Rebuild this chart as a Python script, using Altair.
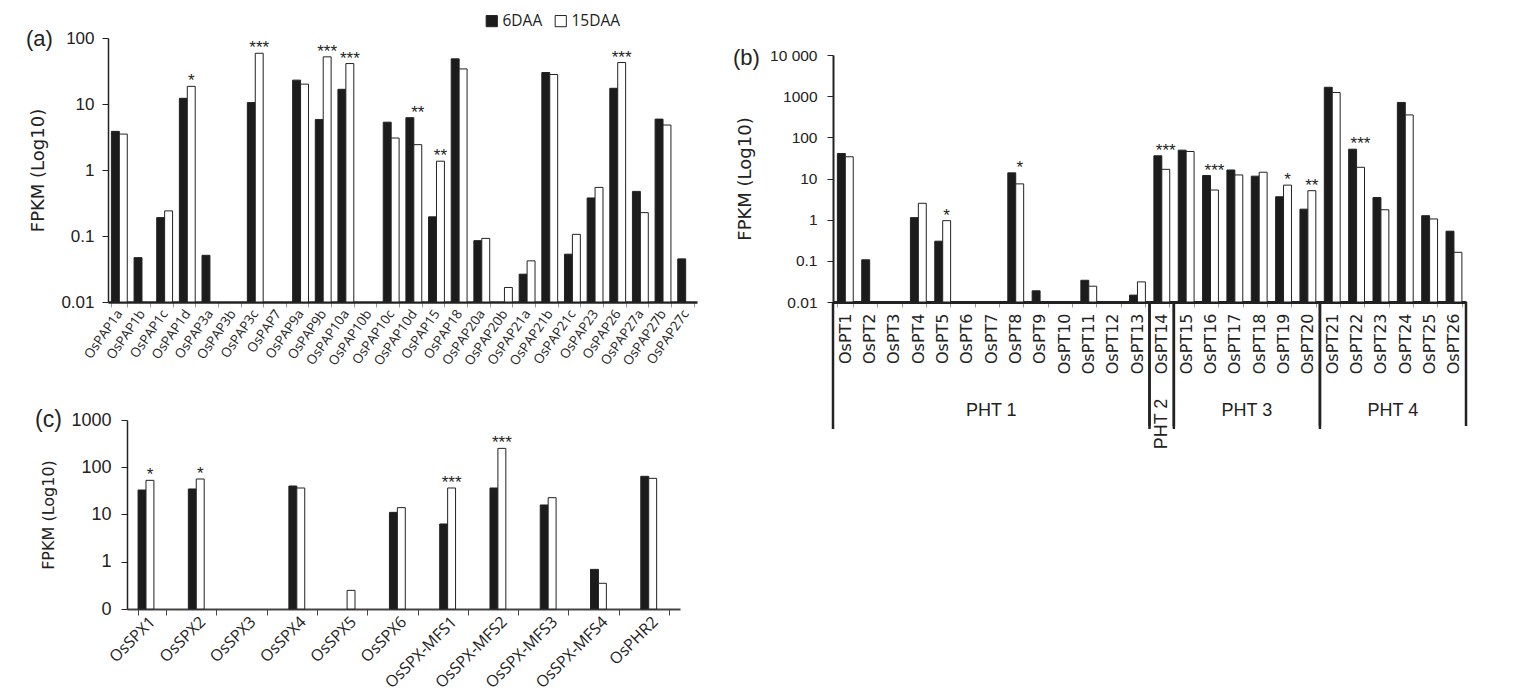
import altair as alt
import pandas as pd

stages = ["6DAA", "15DAA"]
bar_colors = ["#1c1c1c", "#ffffff"]

# ---------- panel (a) ----------
pap_genes = ["OsPAP1a", "OsPAP1b", "OsPAP1c", "OsPAP1d", "OsPAP3a", "OsPAP3b", "OsPAP3c",
             "OsPAP7", "OsPAP9a", "OsPAP9b", "OsPAP10a", "OsPAP10b", "OsPAP10c", "OsPAP10d",
             "OsPAP15", "OsPAP18", "OsPAP20a", "OsPAP20b", "OsPAP21a", "OsPAP21b", "OsPAP21c",
             "OsPAP23", "OsPAP26", "OsPAP27a", "OsPAP27b", "OsPAP27c"]
pap_6 = [3.85, 0.047, 0.19, 12.2, 0.051, None, 10.5, None, 23, 5.8, 16.7, None, 5.3, 6.2,
         0.195, 48.3, 0.085, None, 0.0264, 30, 0.053, 0.377, 17.3, 0.474, 5.9, 0.045]
pap_15 = [3.5, None, 0.24, 18.5, None, None, 58.7, None, 20, 51.8, 41, None, 3.05, 2.42,
          1.36, 34, 0.092, 0.0166, 0.042, 28, 0.106, 0.545, 42.5, 0.226, 4.8, None]
pap_sig = ["", "", "", "*", "", "", "***", "", "", "***", "***", "", "", "**",
           "**", "", "", "", "", "", "", "", "***", "", "", ""]

# ---------- panel (b) ----------
pt_genes = ["OsPT1", "OsPT2", "OsPT3", "OsPT4", "OsPT5", "OsPT6", "OsPT7", "OsPT8", "OsPT9",
            "OsPT10", "OsPT11", "OsPT12", "OsPT13", "OsPT14", "OsPT15", "OsPT16", "OsPT17",
            "OsPT18", "OsPT19", "OsPT20", "OsPT21", "OsPT22", "OsPT23", "OsPT24", "OsPT25",
            "OsPT26"]
pt_6 = [40.5, 0.106, None, 1.12, 0.30, None, None, 13.7, 0.0187, None, 0.0337, None, 0.0147,
        35.6, 48.8, 11.8, 16.1, 11.4, 3.6, 1.8, 1644, 51.5, 3.44, 705, 1.25, 0.525]
pt_15 = [33.7, None, None, 2.5, 0.946, None, None, 7.4, None, None, 0.0242, None, 0.0308,
         16.7, 45.3, 5.25, 12.2, 14.2, 6.9, 5.06, 1225, 18.7, 1.74, 350, 1.04, 0.161]
pt_sig = ["", "", "", "", "*", "", "", "*", "", "", "", "", "", "***", "", "***", "", "",
          "*", "**", "", "***", "", "", "", ""]
pht_names = ["PHT 1", "PHT 2", "PHT 3", "PHT 4"]
pht_start = [0, 13, 14, 20]
pht_end = [13, 14, 20, 26]

# ---------- panel (c) ----------
spx_genes = ["OsSPX1", "OsSPX2", "OsSPX3", "OsSPX4", "OsSPX5", "OsSPX6", "OsSPX-MFS1",
             "OsSPX-MFS2", "OsSPX-MFS3", "OsSPX-MFS4", "OsPHR2"]
spx_6 = [33, 34.7, None, 40.1, None, 11.1, 6.3, 36.4, 15.9, 0.69, 64.3]
spx_15 = [52.8, 56.4, None, 36.4, 0.248, 13.96, 36.4, 251, 22.7, 0.35, 58.2]
spx_sig = ["*", "*", "", "", "", "", "***", "***", "", "", ""]


def long_df(genes, v6, v15):
    rows = []
    for g, a, b in zip(genes, v6, v15):
        if a:
            rows.append({"gene": g, "stage": stages[0], "value": a})
        if b:
            rows.append({"gene": g, "stage": stages[1], "value": b})
    return pd.DataFrame(rows)


def sig_df(genes, v6, v15, sig):
    rows = []
    for g, a, b, s in zip(genes, v6, v15, sig):
        if s:
            rows.append({"gene": g, "stage": stages[1], "top": max(a or 0, b or 0), "sig": s})
    return pd.DataFrame(rows)


def panel(genes, v6, v15, sig, ydomain, width, height, xrange, yrange, band_pad, off_pad,
          xaxis, yaxis, tag, tag_dx, tag_dy, tag_size, legend):
    xscale = alt.Scale(domain=genes, range=xrange, paddingInner=band_pad,
                       paddingOuter=band_pad / 2)
    offscale = alt.Scale(domain=stages, paddingInner=off_pad)
    yscale = alt.Scale(type="log", domain=ydomain, range=yrange)
    bars = alt.Chart(long_df(genes, v6, v15)).mark_bar(stroke="#222222", strokeWidth=1).encode(
        x=alt.X("gene:N", scale=xscale, axis=xaxis, title=None),
        xOffset=alt.XOffset("stage:N", scale=offscale),
        y=alt.Y("value:Q", scale=yscale, axis=yaxis, title="FPKM (Log10)"),
        y2=alt.Y2Datum(ydomain[0]),
        color=alt.Color("stage:N", scale=alt.Scale(domain=stages, range=bar_colors),
                        legend=legend),
    )
    stars = alt.Chart(sig_df(genes, v6, v15, sig)).mark_text(
        fontSize=17, baseline="alphabetic", dy=0, font="Liberation Sans", color="#222222"
    ).encode(
        x=alt.X("gene:N", scale=xscale),
        xOffset=alt.XOffset("stage:N", scale=offscale),
        y=alt.Y("top:Q", scale=yscale),
        text="sig:N",
    )
    label = alt.Chart(pd.DataFrame({"t": [tag]})).mark_text(
        fontSize=tag_size, align="left", baseline="middle", font="Liberation Sans",
        color="#222222"
    ).encode(x=alt.value(tag_dx), y=alt.value(tag_dy), text="t:N")
    return alt.layer(bars, stars, label).properties(width=width, height=height)


label_font = "Liberation Sans"
title_font = "DejaVu Sans"

legend = alt.Legend(
    title=None, orient="none", direction="horizontal", legendX=357, legendY=-25,
    symbolType="square", symbolSize=125, symbolStrokeColor="#222222", symbolStrokeWidth=1,
    labelFont="Open Sans", labelFontSize=15.5, labelColor="#222222", columnPadding=10,
    labelOffset=3, padding=0,
)

# ----- A -----  (origin shared with C; A's own axis sits 19px further left)
A_SHIFT = 19
A_W, A_H = 570, 264
axA_y = alt.Axis(values=[0.01, 0.1, 1, 10, 100], labelExpr="format(datum.value, '~g')",
                 grid=False, domainColor="#222222", domainWidth=1.5, tickColor="#222222",
                 tickSize=6, labelFont=label_font, labelFontSize=17, labelColor="#222222",
                 labelPadding=8, titleFont=title_font, titleFontSize=18,
                 titleFontWeight="normal", titleColor="#222222", titlePadding=13,
                 offset=A_SHIFT)
axA_x = alt.Axis(labelAngle=-55, labelAlign="right", labelBaseline="middle",
                 labelFont="Open Sans", labelFontSize=13.3, labelColor="#222222",
                 labelPadding=4, tickBand="extent", tickColor="#999999", tickSize=5,
                 domainColor="#222222", domainWidth=2.5, grid=False)
A = panel(pap_genes, pap_6, pap_15, pap_sig, [0.01, 100], A_W, A_H, [-A_SHIFT, A_W],
          [A_H, 0], 0.3, 0.0, axA_x, axA_y, "(a)", -101, 1, 22, legend)

# ----- B -----  (top 17px lower than A's)
B_TOP = 17
B_W, B_H = 633, 264
axB_y = alt.Axis(values=[0.01, 0.1, 1, 10, 100, 1000, 10000],
                 labelExpr="datum.value >= 10000 ? replace(format(datum.value, ','), ',', ' ') : format(datum.value, '~g')",
                 grid=False, domainColor="#222222", domainWidth=2, tickColor="#222222",
                 tickSize=6, labelFont=label_font, labelFontSize=15.5, labelColor="#222222",
                 labelPadding=10, titleFont=title_font, titleFontSize=18,
                 titleFontWeight="normal", titleColor="#222222", titlePadding=15)
axB_x = alt.Axis(labelAngle=270, labelAlign="right", labelBaseline="middle",
                 labelFont="DejaVu Sans", labelFontSize=16, labelColor="#222222",
                 labelPadding=6, tickBand="extent", tickColor="#999999", tickSize=5,
                 domainColor="#222222", domainWidth=3, grid=False)
B_inner = panel(pt_genes, pt_6, pt_15, pt_sig, [0.01, 10000], B_W, B_H, [0, B_W],
                [B_H, B_TOP], 0.36, 0.0, axB_x, axB_y, "(b)", -100, B_TOP + 3, 22, None)

grp = pd.DataFrame({"name": pht_names, "start": pht_start, "end": pht_end})
grp["mid"] = (grp["start"] + grp["end"]) / 2
grp["span"] = grp["end"] - grp["start"]
qx = alt.Scale(domain=[0, len(pt_genes)])
r1 = alt.Chart(grp).mark_rule(color="#222222", strokeWidth=2.5).encode(
    x=alt.X("start:Q", scale=qx, axis=None), y=alt.value(B_H), y2=alt.value(B_H + 127))
r2 = alt.Chart(grp).mark_rule(color="#222222", strokeWidth=2.5).encode(
    x=alt.X("end:Q", scale=qx, axis=None), y=alt.value(B_H), y2=alt.value(B_H + 124))
t1 = alt.Chart(grp).transform_filter("datum.span > 1").mark_text(
    fontSize=18, font=label_font, color="#222222", baseline="middle").encode(
    x=alt.X("mid:Q", scale=qx, axis=None), y=alt.value(B_H + 109), text="name:N")
t2 = alt.Chart(grp).transform_filter("datum.span <= 1").mark_text(
    fontSize=18, font=label_font, color="#222222", baseline="middle", angle=270).encode(
    x=alt.X("mid:Q", scale=qx, axis=None), y=alt.value(B_H + 122), text="name:N")
annot = alt.layer(r1, r2, t1, t2)
B = alt.layer(B_inner, annot).resolve_scale(x="independent")

# ----- C -----
C_W, C_H = 553, 189
axC_y = alt.Axis(values=[0.1, 1, 10, 100, 1000],
                 labelExpr="datum.value < 0.5 ? '0' : format(datum.value, '~g')",
                 grid=False, domainColor="#222222", domainWidth=1.5, tickColor="#222222",
                 tickSize=6, labelFont=label_font, labelFontSize=18, labelColor="#222222",
                 labelPadding=10, titleFont=title_font, titleFontSize=16,
                 titleFontWeight="normal", titleColor="#222222", titlePadding=14)
axC_x = alt.Axis(labelAngle=315, labelAlign="right", labelBaseline="middle",
                 labelFont="Open Sans", labelFontSize=16, labelColor="#222222",
                 labelPadding=4, tickBand="extent", tickColor="#444444", tickSize=6,
                 domainColor="#444444", domainWidth=2, grid=False)
C = panel(spx_genes, spx_6, spx_15, spx_sig, [0.1, 1000], C_W, C_H, [0, C_W], [C_H, 0],
          0.44, 0.12, axC_x, axC_y, "(c)", -92, 0, 23, None)

left_col = alt.vconcat(A, C, spacing=41)
chart = alt.hconcat(left_col, B, spacing=17).properties(
    padding={"left": 18, "top": 5, "right": 5, "bottom": 5}
).configure_view(stroke=None).configure_axis(grid=False)

chart.save("out.html", embed_options={"renderer": "svg", "actions": False})
